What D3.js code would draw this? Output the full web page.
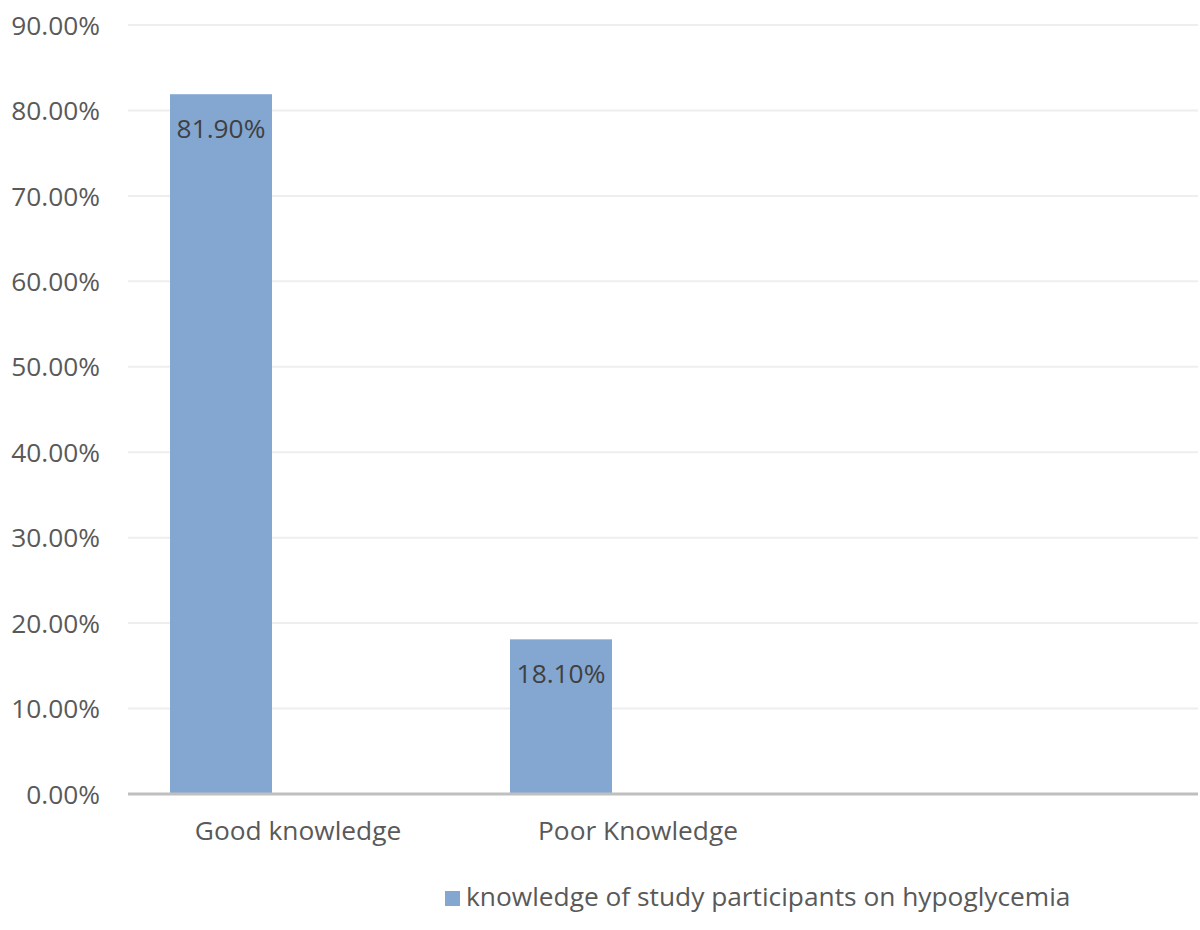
<!DOCTYPE html>
<html><head><meta charset="utf-8">
<script src="https://cdn.jsdelivr.net/npm/d3@7"></script>
<style>body{margin:0;background:#fff;} text{font-family:"Open Sans",Lato,sans-serif;}</style>
</head><body><svg id="c" width="1200" height="930"></svg>
<script>
const categories = ["Good knowledge", "Poor Knowledge", ""];
const values = [81.9, 18.1, null];
const seriesName = "knowledge of study participants on hypoglycemia";
const yTicks = [0, 10, 20, 30, 40, 50, 60, 70, 80, 90];

(function(){
const FONT = "'Open Sans', Lato, sans-serif";
const FS = 26.3;
const svg = d3.select("#c");
const mLeft = 128, mRight = 1198, mTop = 25, mBottom = 794;
const x = d3.scaleBand().domain(categories).range([mLeft, mLeft + 340 * categories.length]);
const y = d3.scaleLinear().domain([0, 90]).range([mBottom, mTop]);

// gridlines
svg.append("g").selectAll("line").data(yTicks.filter(d => d > 0)).join("line")
  .attr("x1", mLeft).attr("x2", mRight)
  .attr("y1", d => y(d)).attr("y2", d => y(d))
  .attr("stroke", "#eeeeee").attr("stroke-width", 2);

// y axis labels
const yAxis = d3.axisLeft(y).tickValues(yTicks).tickFormat(d => d.toFixed(2) + "%").tickSize(0).tickPadding(0);
const gy = svg.append("g").attr("transform", `translate(100,0)`).call(yAxis);
gy.select(".domain").remove();
gy.selectAll("text").attr("font-size", FS).attr("fill", "#595959").attr("dy", "0.35em")
  .style("font-family", FONT);

// bars
const barOffset = 42, barW = 102;
const data = categories.map((c, i) => ({c, v: values[i]})).filter(d => d.v != null);
svg.append("g").selectAll("rect").data(data).join("rect")
  .attr("x", d => x(d.c) + barOffset).attr("width", barW)
  .attr("y", d => y(d.v)).attr("height", d => y(0) - y(d.v))
  .attr("fill", "#84a7d2");

// value labels
svg.append("g").selectAll("text").data(data).join("text")
  .attr("x", d => x(d.c) + barOffset + barW / 2).attr("y", d => y(d.v) + 44)
  .attr("text-anchor", "middle").attr("font-size", FS).attr("fill", "#404040")
  .text(d => d.v.toFixed(2) + "%");

// x axis line
svg.append("line").attr("x1", mLeft).attr("x2", mRight).attr("y1", mBottom).attr("y2", mBottom)
  .attr("stroke", "#bfbfbf").attr("stroke-width", 3);

// x axis labels
const xAxis = d3.axisBottom(x).tickSize(0).tickPadding(0);
const gx = svg.append("g").attr("transform", `translate(0,840)`).call(xAxis);
gx.select(".domain").remove();
gx.selectAll("text").attr("font-size", FS).attr("fill", "#595959").attr("dy", 0)
  .style("font-family", FONT);

// legend
const lg = svg.append("g");
lg.append("rect").attr("x", 445).attr("y", 891).attr("width", 15).attr("height", 15).attr("fill", "#84a7d2");
lg.append("text").attr("x", 466).attr("y", 906).attr("font-size", FS).attr("fill", "#595959").text(seriesName);
})();
</script></body></html>
